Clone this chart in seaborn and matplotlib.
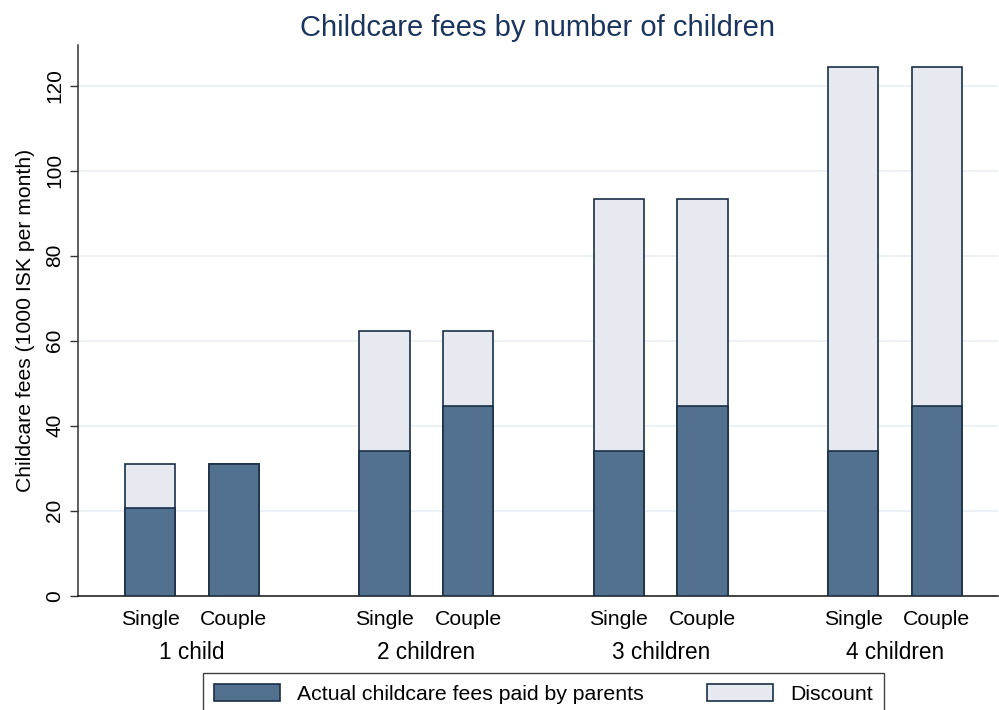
import matplotlib
matplotlib.use("Agg")
import matplotlib.pyplot as plt
import matplotlib.transforms as mtransforms
from matplotlib.patches import Patch
import seaborn as sns
import numpy as np
import pandas as pd

# Data (1000 ISK per month)
groups = ["1 child", "2 children", "3 children", "4 children"]
household = ["Single", "Couple"]
actual_single = [20.7, 34.1, 34.1, 34.1]
actual_couple = [31.0, 44.6, 44.6, 44.6]
total_single = [31.0, 62.3, 93.3, 124.4]
total_couple = [31.0, 62.3, 93.3, 124.4]

dark = "#52718f"
light = "#e6eaf0"
edge = "#1b2f47"
title_col = "#1c355e"

sns.set_theme(style="white")
plt.rcParams["font.family"] = ["Liberation Sans", "DejaVu Sans"]
plt.rcParams["text.color"] = "black"
plt.rcParams["axes.labelcolor"] = "black"
plt.rcParams["xtick.color"] = "black"
plt.rcParams["ytick.color"] = "black"

rows = []
for i, g in enumerate(groups):
    for j, h in enumerate(household):
        act = actual_single[i] if j == 0 else actual_couple[i]
        tot = total_single[i] if j == 0 else total_couple[i]
        rows.append({"group": g, "household": h, "pos": i * 2.8 + j,
                     "actual": act, "total": tot})
df = pd.DataFrame(rows)

fig = plt.figure(figsize=(9.99, 7.10), dpi=100)
ax = fig.add_axes([0.078, 0.161, 0.921, 0.776])

for y in [20, 40, 60, 80, 100, 120]:
    ax.axhline(y, color="#e9eff4", linewidth=1.2, zorder=0)

sns.barplot(data=df, x="pos", y="total", native_scale=True, width=0.6,
            color=light, edgecolor=edge, linewidth=1.2, saturation=1,
            ax=ax, zorder=2)
sns.barplot(data=df, x="pos", y="actual", native_scale=True, width=0.6,
            color=dark, edgecolor=edge, linewidth=1.2, saturation=1,
            ax=ax, zorder=3)

ax.set_xlim(-0.862, 9.4 + 0.73)
ax.set_ylim(0, 129.6)
ax.set_yticks([0, 20, 40, 60, 80, 100, 120])
ax.set_yticklabels(["0", "20", "40", "60", "80", "100", "120"],
                   rotation=90, va="center", fontsize=15)
ax.tick_params(axis="y", left=True, length=6, width=1, color="#333333", pad=4)
ax.set_xticks(df["pos"])
ax.set_xticklabels(df["household"], fontsize=15.3)
ax.tick_params(axis="x", bottom=False, pad=4)
ax.set_xlabel("")
ax.set_ylabel("Childcare fees (1000 ISK per month)", fontsize=15.2, labelpad=7)

for s in ["top", "right"]:
    ax.spines[s].set_visible(False)
ax.spines["left"].set_color("#333333")
ax.spines["bottom"].set_color("#111111")
ax.spines["left"].set_linewidth(1.1)
ax.spines["bottom"].set_linewidth(1.1)

trans = mtransforms.blended_transform_factory(ax.transData, ax.transAxes)
for i, g in enumerate(groups):
    ax.text(i * 2.8 + 0.5, -0.104, g, transform=trans, ha="center",
            va="center", fontsize=16.3)

ax.set_title("Childcare fees by number of children", fontsize=21,
             color=title_col, pad=6)

handles = [Patch(facecolor=dark, edgecolor=edge, linewidth=1.2),
           Patch(facecolor=light, edgecolor=edge, linewidth=1.2)]
leg = fig.legend(handles, ["Actual childcare fees paid by parents", "Discount"],
                 loc="upper center", bbox_to_anchor=(0.544, 0.052), ncol=2,
                 fontsize=15.3, frameon=True, fancybox=False,
                 handlelength=3.1, handleheight=0.9, columnspacing=3.0,
                 borderpad=0.5, borderaxespad=0, edgecolor="#111111")
leg.get_frame().set_linewidth(1.0)

fig.savefig("out.png", dpi=100)
